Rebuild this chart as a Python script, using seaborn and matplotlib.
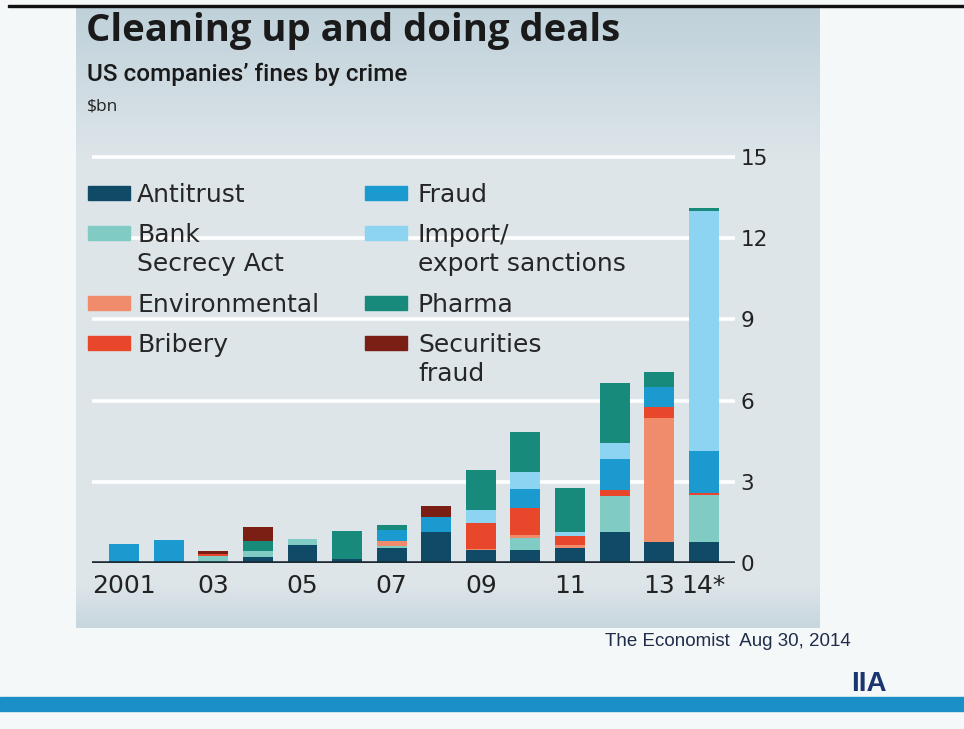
import numpy as np
import pandas as pd
import matplotlib
matplotlib.use("Agg")
import matplotlib.pyplot as plt
import seaborn as sns
from matplotlib.patches import Rectangle

# ---------------- data ----------------
years = ["2001", "2002", "2003", "2004", "2005", "2006", "2007",
         "2008", "2009", "2010", "2011", "2012", "2013", "2014"]
tick_labels = ["2001", "", "03", "", "05", "", "07", "", "09", "", "11", "", "13", "14*"]
categories = ["Antitrust", "Bank Secrecy Act", "Environmental", "Bribery",
              "Fraud", "Import/export sanctions", "Pharma", "Securities fraud"]
legend_labels = ["Antitrust", "Bank\nSecrecy Act", "Environmental", "Bribery",
                 "Fraud", "Import/\nexport sanctions", "Pharma", "Securities\nfraud"]

antitrust      = [0.05, 0.05, 0.05, 0.23, 0.65, 0.15, 0.54, 1.16, 0.48, 0.48, 0.55, 1.13, 0.76, 0.76]
bank_secrecy   = [0.00, 0.00, 0.22, 0.20, 0.22, 0.00, 0.10, 0.00, 0.00, 0.43, 0.00, 1.35, 0.00, 1.76]
environmental  = [0.00, 0.00, 0.00, 0.00, 0.00, 0.00, 0.16, 0.00, 0.05, 0.12, 0.10, 0.00, 4.59, 0.00]
bribery        = [0.00, 0.00, 0.05, 0.00, 0.00, 0.00, 0.00, 0.00, 0.93, 1.02, 0.33, 0.22, 0.43, 0.06]
fraud          = [0.65, 0.80, 0.00, 0.00, 0.00, 0.00, 0.42, 0.55, 0.00, 0.70, 0.00, 1.13, 0.74, 1.54]
import_export  = [0.00, 0.00, 0.00, 0.00, 0.00, 0.00, 0.00, 0.00, 0.49, 0.62, 0.16, 0.59, 0.00, 8.90]
pharma         = [0.00, 0.00, 0.00, 0.40, 0.00, 1.05, 0.18, 0.00, 1.48, 1.48, 1.62, 2.24, 0.52, 0.10]
securities     = [0.00, 0.00, 0.13, 0.50, 0.00, 0.00, 0.00, 0.39, 0.00, 0.00, 0.00, 0.00, 0.00, 0.00]

series = [antitrust, bank_secrecy, environmental, bribery, fraud, import_export, pharma, securities]
colors = ["#0f4b66", "#80cbc3", "#f08c6c", "#e8472b", "#1b9ad0", "#8dd4f2", "#178a7b", "#7b1f14"]

y_ticks = [0, 3, 6, 9, 12, 15]

df = pd.DataFrame({c: v for c, v in zip(categories, series)}, index=years)

# ---------------- figure ----------------
W, H = 964, 729
fig = plt.figure(figsize=(W / 100, H / 100), dpi=100)
fig.patch.set_facecolor("#f5f8f8")

def fx(px):
    return px / W

def fy(py):
    return 1 - py / H

# panel background with gradient
bg = fig.add_axes([fx(76), fy(628), fx(820) - fx(76), fy(7) - fy(628)], zorder=0)
grad = np.linspace(0, 1, 300)
top_c = np.array([0.75, 0.82, 0.855])
mid_c = np.array([0.87, 0.90, 0.915])
bot_c = np.array([0.78, 0.84, 0.87])
img = np.zeros((300, 2, 3))
for i, g in enumerate(grad):
    if g < 0.25:
        t = g / 0.25
        c = top_c * (1 - t) + mid_c * t
    elif g < 0.93:
        c = mid_c
    else:
        t = (g - 0.93) / 0.07
        c = mid_c * (1 - t) + bot_c * t
    img[i, :, :] = c
bg.imshow(img, aspect="auto", extent=[0, 1, 0, 1])
bg.set_axis_off()

# top black line & bottom blue band
fig.add_artist(Rectangle((fx(8), fy(7)), 1 - fx(8), 2 / H, transform=fig.transFigure,
                         color="#111111", zorder=5))
fig.add_artist(Rectangle((0, fy(711)), 1, 14 / H, transform=fig.transFigure,
                         color="#1b8fc8", zorder=5))

# main axes
ax = fig.add_axes([fx(92), fy(563), fx(735) - fx(92), fy(135) - fy(563)], zorder=2)
ax.set_facecolor("none")

bottom = np.zeros(len(years))
for cat, col in zip(categories, colors):
    vals = df[cat].values
    sns.barplot(x=list(range(len(years))), y=vals, bottom=bottom, color=col,
                saturation=1, width=0.67, ax=ax, zorder=3, linewidth=0)
    bottom = bottom + vals

ax.set_xlim(-0.72, 13.7)
ax.set_ylim(0, (563 - 135) / 27.07)
for s in ax.spines.values():
    s.set_visible(False)
for t in y_ticks[1:]:
    ax.axhline(t, color="white", lw=2.6, zorder=1)
ax.axhline(0, color="#1c2a33", lw=2.6, zorder=4)

ax.yaxis.tick_right()
ax.set_yticks(y_ticks)
ax.set_yticklabels([str(t) for t in y_ticks], fontsize=15.5, color="#222222", family="DejaVu Sans")
ax.set_xticks(range(len(years)))
ax.set_xticklabels(tick_labels, fontsize=18, color="#222222", family="DejaVu Sans")
ax.tick_params(axis="both", length=0)
ax.tick_params(axis="y", pad=4)
ax.tick_params(axis="x", pad=8)
ax.set_xlabel("")
ax.set_ylabel("")

# titles
fig.text(fx(86), fy(31), "Cleaning up and doing deals", fontsize=27.5, fontweight="bold",
         family="Open Sans", color="#1a1a1a", va="center", ha="left", zorder=6)
fig.text(fx(87), fy(74), "US companies\u2019 fines by crime", fontsize=17.5, fontweight="medium",
         family="Roboto", color="#1a1a1a", va="center", ha="left", zorder=6)
fig.text(fx(87), fy(106), "$bn", fontsize=12.5, family="Open Sans",
         color="#222222", va="center", ha="left", zorder=6)

# legend (manual, two columns)
leg_pos = [(88, 193), (88, 233), (88, 303), (88, 343),
           (365, 193), (365, 233), (365, 303), (365, 343)]
for k, ((px, py), lab, col) in enumerate(zip(leg_pos, legend_labels, colors)):
    fig.add_artist(Rectangle((fx(px), fy(py + 7)), 42 / W, 14 / H,
                             transform=fig.transFigure, color=col, zorder=6))
    tx = px + 49 if k < 4 else px + 53
    fig.text(fx(tx), fy(py - 10), lab, fontsize=18, family="DejaVu Sans",
             color="#262626", va="top", ha="left", linespacing=1.28, zorder=6)

# source and logo
fig.text(fx(605), fy(642), "The Economist  Aug 30, 2014", fontsize=13.5, family="Liberation Sans",
         color="#1f2d4a", va="center", ha="left", zorder=6)
fig.text(fx(869), fy(684), "IIA", fontsize=20, fontweight="bold", family="Liberation Sans",
         color="#1b3570", va="center", ha="center", zorder=6)

fig.savefig("out.png", dpi=100, facecolor=fig.get_facecolor())
